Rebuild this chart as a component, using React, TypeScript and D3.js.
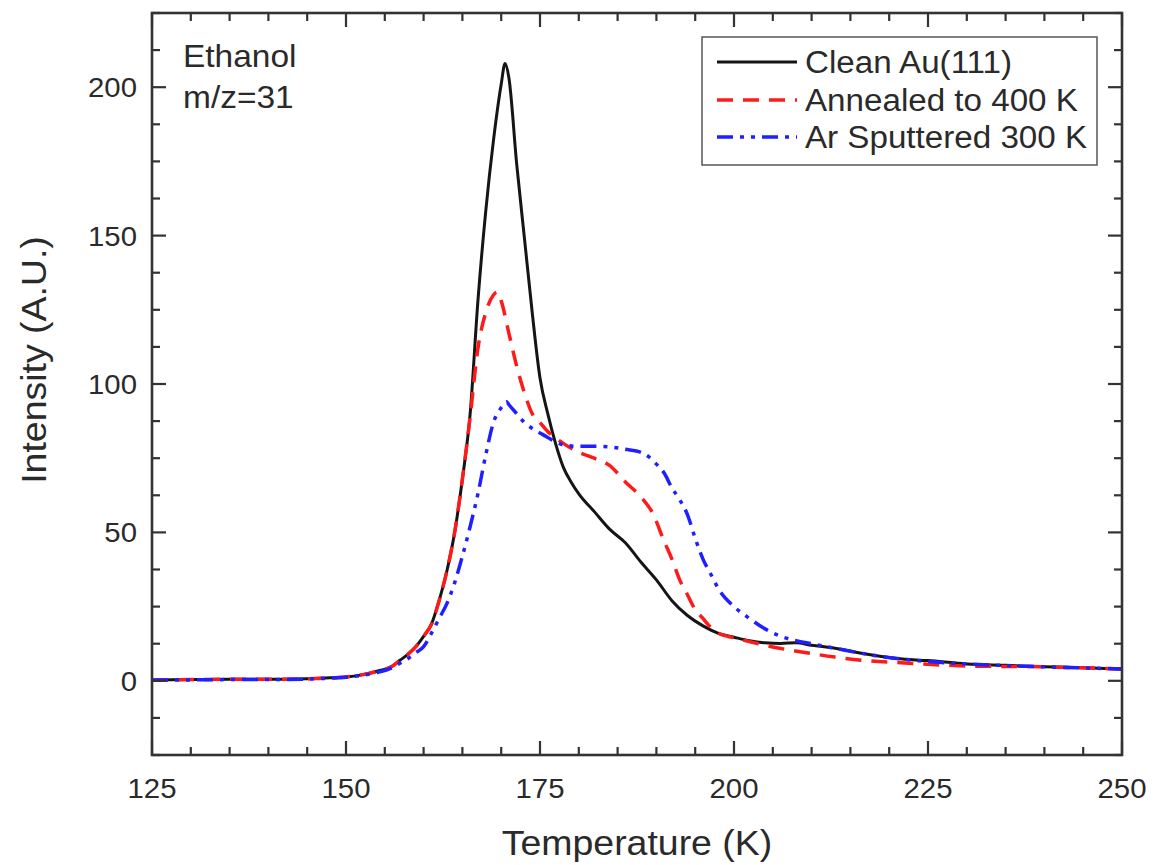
import React from "react";
import * as d3 from "d3";

const xTicks = [125, 150, 175, 200, 225, 250];
const yTicks = [0, 50, 100, 150, 200];

const cleanT = [125, 130, 135, 140, 145, 148, 150, 152, 154, 156, 157, 158, 159, 160, 161, 162, 163, 164, 165, 166, 167, 168, 169, 170, 170.5, 171, 172, 173, 174, 175, 176, 177, 178, 179, 180, 182, 184, 186, 188, 190, 192, 194, 196, 198, 200, 202, 204, 206, 208, 210, 213, 217, 221, 225, 230, 235, 240, 245, 250];
const cleanV = [0.3, 0.4, 0.5, 0.5, 0.7, 1.0, 1.3, 2.0, 3.2, 5.0, 7.0, 9.0, 11.5, 15, 19, 27, 37, 50, 68, 90, 128, 158, 182, 201, 208, 203, 174, 149, 124, 102, 90, 80, 72, 67, 63, 57, 51, 46.5, 40, 34, 27, 22, 18.5, 16, 14.7, 13.5, 12.8, 12.6, 12.8, 12, 11, 9, 7.5, 6.8, 5.7, 5.2, 4.7, 4.4, 4];

const annealT = [125, 130, 135, 140, 145, 148, 150, 152, 154, 156, 157, 158, 159, 160, 161, 162, 163, 164, 165, 166, 167, 168, 169, 169.5, 170, 171, 172, 173, 174, 175, 176, 178, 180, 182, 184, 186, 188, 189.5, 191, 192, 193, 194, 195, 196, 197, 198, 200, 202, 205, 208.5, 213, 217, 222, 230, 240, 250];
const annealV = [0.3, 0.4, 0.5, 0.5, 0.7, 1.0, 1.3, 2.0, 3.2, 5.0, 7.0, 9.0, 11.5, 15, 19, 27, 37, 50, 68, 89, 112, 124, 130, 131, 128, 117, 106, 97, 90, 87, 84, 80, 77, 75, 72.5, 67, 62, 56.6, 47, 41, 34, 29, 24, 21, 18, 16, 14.5, 13.2, 11.4, 9.8, 8, 6.8, 6, 5, 4.7, 4];

const sputT = [125, 130, 135, 140, 145, 148, 150, 152, 154, 156, 157, 158, 159, 160, 161, 162, 163, 164, 165, 166, 167, 168, 169, 170, 170.7, 171, 172, 173, 174, 175, 176, 177, 178, 180, 182, 184, 186, 188, 189, 190, 191, 192, 193, 194, 195, 196, 197, 198, 200, 202, 204, 206, 208, 210, 213, 217, 221, 225, 230, 240, 250];
const sputV = [0.2, 0.3, 0.4, 0.4, 0.6, 0.9, 1.2, 1.8, 2.8, 4.5, 6.0, 7.5, 9.5, 11.5, 16, 21, 26, 33, 42, 52, 63, 76, 87, 92, 94, 93, 90, 87, 85, 83.5, 82, 80.5, 79.5, 79, 79, 78.8, 78, 77, 75.5, 73, 70, 65, 61, 56, 48, 41, 36, 31, 25, 21, 17.5, 15, 13.5, 12.5, 11, 9, 7.5, 6.5, 5.7, 4.7, 4];

const seriesNames = ["Clean Au(111)", "Annealed to 400 K", "Ar Sputtered 300 K"];

const W = 1154;
const H = 865;
const left = 152, right = 1122, top = 13, bottom = 755;
const FONT = "'Liberation Sans', Arial, Helvetica, sans-serif";
const TXT = "#2a2a2a";
const AX = "#333";

function SText({ x, y, size, sx = 1.07, anchor = "start", children, rotate = 0 }: any) {
  return (
    <g transform={`translate(${x},${y}) rotate(${rotate}) scale(${sx},1)`}>
      <text x={0} y={0} fontSize={size} fill={TXT} textAnchor={anchor}>
        {children}
      </text>
    </g>
  );
}

export default function App() {
  const x = d3.scaleLinear().domain([125, 250]).range([left, right]);
  const y = d3.scaleLinear().domain([-25, 225]).range([bottom, top]);

  const line = d3
    .line<[number, number]>()
    .x((d) => x(d[0]))
    .y((d) => y(d[1]))
    .curve(d3.curveMonotoneX);

  const series = [
    { name: seriesNames[0], T: cleanT, V: cleanV, color: "#151515", dash: "none", width: 3 },
    { name: seriesNames[1], T: annealT, V: annealV, color: "#ff1a1a", dash: "16 10", width: 3.5 },
    { name: seriesNames[2], T: sputT, V: sputV, color: "#1f1fff", dash: "16 7 4 7 4 7", width: 3.5 },
  ];

  const xMinor = d3.range(125, 250.01, 5).filter((v) => v % 25 !== 0);
  const yMinor = d3.range(-25, 225.01, 12.5).filter((v) => v % 50 !== 0);
  const yMajorAll = [0, 50, 100, 150, 200];
  const MAJ = 14, MIN = 8;

  const legendY = [62, 100, 137];

  return (
    <svg width={W} height={H} style={{ display: "block", position: "absolute", left: 0, top: 0 }} fontFamily={FONT}>
      <rect width={W} height={H} fill="#fff" />
      <defs>
        <clipPath id="plotclip">
          <rect x={left} y={top} width={right - left} height={bottom - top} />
        </clipPath>
      </defs>

      <g clipPath="url(#plotclip)">
        {series.map((s, i) => (
          <path
            key={i}
            d={line(s.T.map((t, j) => [t, s.V[j]] as [number, number])) || ""}
            fill="none"
            stroke={s.color}
            strokeWidth={s.width}
            strokeDasharray={s.dash}
            strokeLinejoin="round"
          />
        ))}
      </g>

      <g stroke={AX} strokeWidth={2.2}>
        {xTicks.map((t) => (
          <g key={"xm" + t}>
            <line x1={x(t)} x2={x(t)} y1={bottom} y2={bottom - MAJ} />
            <line x1={x(t)} x2={x(t)} y1={top} y2={top + MAJ} />
          </g>
        ))}
        {xMinor.map((t) => (
          <g key={"xn" + t}>
            <line x1={x(t)} x2={x(t)} y1={bottom} y2={bottom - MIN} />
            <line x1={x(t)} x2={x(t)} y1={top} y2={top + MIN} />
          </g>
        ))}
        {yMajorAll.map((t) => (
          <g key={"ym" + t}>
            <line x1={left} x2={left + MAJ} y1={y(t)} y2={y(t)} />
            <line x1={right} x2={right - MAJ} y1={y(t)} y2={y(t)} />
          </g>
        ))}
        {yMinor.map((t) => (
          <g key={"yn" + t}>
            <line x1={left} x2={left + MIN} y1={y(t)} y2={y(t)} />
            <line x1={right} x2={right - MIN} y1={y(t)} y2={y(t)} />
          </g>
        ))}
      </g>

      <rect x={left} y={top} width={right - left} height={bottom - top} fill="none" stroke={AX} strokeWidth={2.6} />

      {xTicks.map((t) => (
        <SText key={"xl" + t} x={x(t)} y={798} size={28.5} sx={1.03} anchor="middle">
          {t}
        </SText>
      ))}
      {yTicks.map((t) => (
        <SText key={"yl" + t} x={137} y={y(t) + 10} size={28.5} sx={1.03} anchor="end">
          {t}
        </SText>
      ))}

      <SText x={637} y={855} size={35} anchor="middle">
        Temperature (K)
      </SText>
      <g transform="translate(46,360) rotate(-90)">
        <SText x={0} y={0} size={35} anchor="middle">
          Intensity (A.U.)
        </SText>
      </g>

      <SText x={183} y={67} size={31} sx={1.08}>Ethanol</SText>
      <SText x={183} y={108} size={31} sx={1.08}>m/z=31</SText>

      <rect x={702} y={37} width={395} height={128} fill="#fff" stroke="#555" strokeWidth={1.5} />
      {series.map((s, i) => (
        <g key={"lg" + i}>
          <line
            x1={717}
            x2={797}
            y1={legendY[i]}
            y2={legendY[i]}
            stroke={s.color}
            strokeWidth={s.width}
            strokeDasharray={s.dash}
          />
          <SText x={805} y={legendY[i] + 11} size={31}>
            {s.name}
          </SText>
        </g>
      ))}
    </svg>
  );
}
